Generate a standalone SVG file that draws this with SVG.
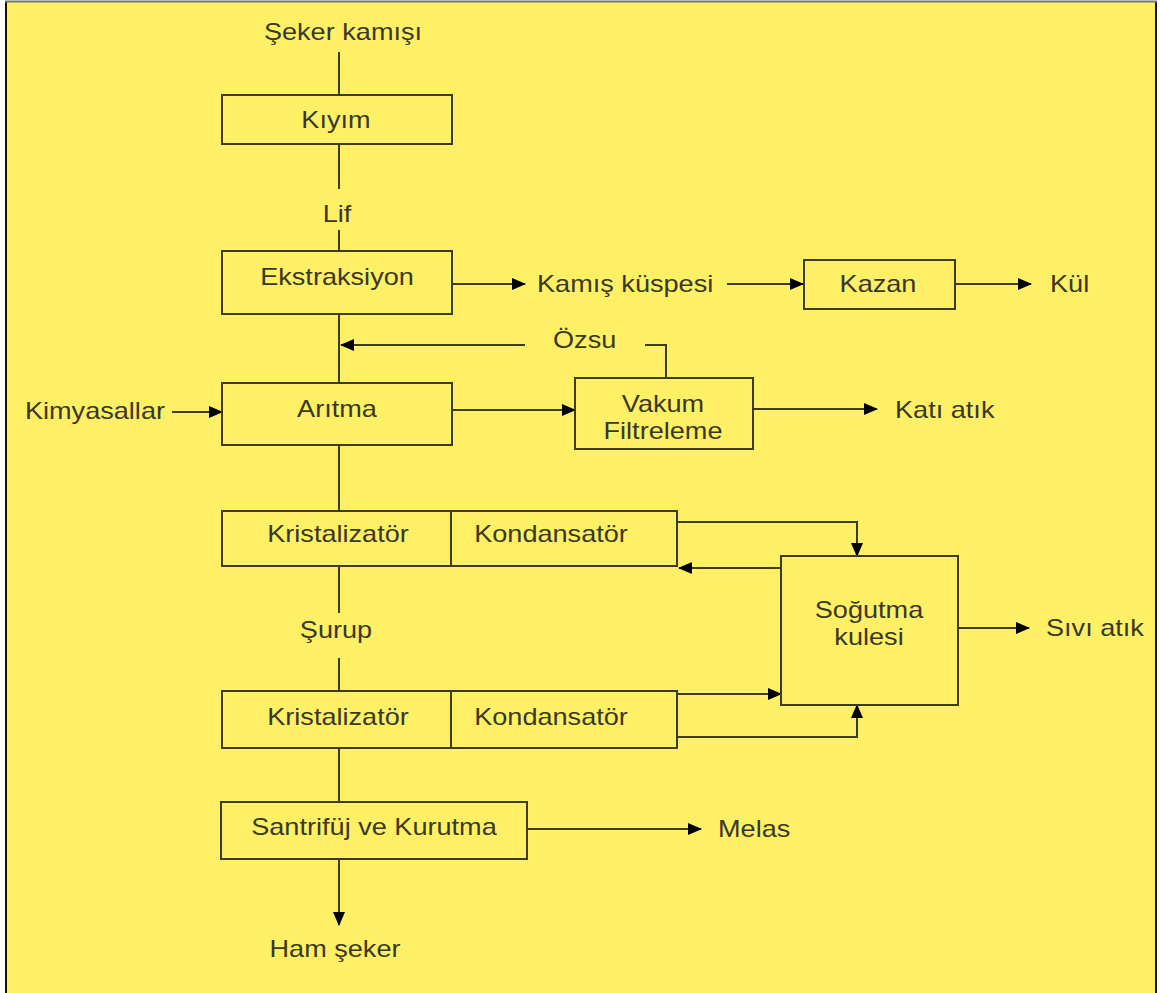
<svg xmlns="http://www.w3.org/2000/svg" width="1160" height="993" viewBox="0 0 1160 993">
<style>
.bg{fill:#FFF066}
.box{fill:#FFF066;stroke:#3d3b22;stroke-width:2}
.ln{fill:none;stroke:#3d3b22;stroke-width:2}
.t{font-family:"Liberation Sans",Arial,sans-serif;font-size:24px;fill:#3a381f}
.m{text-anchor:middle}
.e{text-anchor:end}
</style>
<defs>
<marker id="ah" markerWidth="14" markerHeight="12" refX="13" refY="6" orient="auto" markerUnits="userSpaceOnUse">
<path d="M0,0 L14,6 L0,12 Z" fill="#000"/>
</marker>
</defs>
<rect x="0" y="0" width="1160" height="993" fill="#ffffff"/>
<rect class="bg" x="6" y="2" width="1151" height="991"/>
<line x1="6" y1="2" x2="6" y2="993" stroke="#111" stroke-width="2"/>
<line x1="1156" y1="2" x2="1156" y2="993" stroke="#111" stroke-width="2"/>
<line x1="5" y1="1.5" x2="1157" y2="1.5" stroke="#777" stroke-width="2"/>

<g id="connectors">
<line class="ln" x1="339" y1="52" x2="339" y2="95"/>
<line class="ln" x1="339" y1="144" x2="339" y2="189"/>
<line class="ln" x1="339" y1="230" x2="339" y2="251"/>
<line class="ln" x1="452" y1="284" x2="525" y2="284" marker-end="url(#ah)"/>
<line class="ln" x1="727" y1="284" x2="803" y2="284" marker-end="url(#ah)"/>
<line class="ln" x1="955" y1="284" x2="1031" y2="284" marker-end="url(#ah)"/>
<line class="ln" x1="339" y1="314" x2="339" y2="383"/>
<line class="ln" x1="525" y1="345" x2="341" y2="345" marker-end="url(#ah)"/>
<polyline class="ln" points="645,345 666,345 666,378"/>
<line class="ln" x1="172" y1="412" x2="222" y2="412" marker-end="url(#ah)"/>
<line class="ln" x1="452" y1="410" x2="575" y2="410" marker-end="url(#ah)"/>
<line class="ln" x1="753" y1="409" x2="877" y2="409" marker-end="url(#ah)"/>
<line class="ln" x1="339" y1="445" x2="339" y2="511"/>
<polyline class="ln" points="677,522 857,522 857,556" marker-end="url(#ah)"/>
<line class="ln" x1="781" y1="568" x2="679" y2="568" marker-end="url(#ah)"/>
<line class="ln" x1="958" y1="628" x2="1029" y2="628" marker-end="url(#ah)"/>
<line class="ln" x1="339" y1="566" x2="339" y2="613"/>
<line class="ln" x1="339" y1="658" x2="339" y2="691"/>
<line class="ln" x1="677" y1="694" x2="781" y2="694" marker-end="url(#ah)"/>
<polyline class="ln" points="677,737 857,737 857,705" marker-end="url(#ah)"/>
<line class="ln" x1="339" y1="748" x2="339" y2="802"/>
<line class="ln" x1="527" y1="829" x2="701" y2="829" marker-end="url(#ah)"/>
<line class="ln" x1="339" y1="859" x2="339" y2="925" marker-end="url(#ah)"/>
</g>

<g id="seker-kamisi"><text class="t m" transform="translate(343 40) scale(1.13 1)">Şeker kamışı</text></g>
<g id="kiyim"><rect class="box" x="222" y="95" width="230" height="49"/><text class="t m" transform="translate(336 128) scale(1.13 1)">Kıyım</text></g>
<g id="lif"><text class="t m" transform="translate(337 222) scale(1.13 1)">Lif</text></g>
<g id="ekstraksiyon"><rect class="box" x="222" y="251" width="230" height="63"/><text class="t m" transform="translate(337 285) scale(1.13 1)">Ekstraksiyon</text></g>
<g id="kamis-kuspesi"><text class="t" transform="translate(537 292) scale(1.13 1)">Kamış küspesi</text></g>
<g id="kazan"><rect class="box" x="804" y="260" width="151" height="49"/><text class="t m" transform="translate(878 292) scale(1.13 1)">Kazan</text></g>
<g id="kul"><text class="t" transform="translate(1050 292) scale(1.13 1)">Kül</text></g>
<g id="ozsu"><text class="t" transform="translate(553 348) scale(1.13 1)">Özsu</text></g>
<g id="kimyasallar"><text class="t e" transform="translate(165 419) scale(1.13 1)">Kimyasallar</text></g>
<g id="aritma"><rect class="box" x="222" y="383" width="230" height="62"/><text class="t m" transform="translate(337 417) scale(1.13 1)">Arıtma</text></g>
<g id="vakum"><rect class="box" x="575" y="378" width="178" height="71"/><text class="t m" transform="translate(663 412) scale(1.13 1)">Vakum</text><text class="t m" transform="translate(663 439) scale(1.13 1)">Filtreleme</text></g>
<g id="kati-atik"><text class="t" transform="translate(895 418) scale(1.13 1)">Katı atık</text></g>
<g id="kristalizator1"><rect class="box" x="222" y="511" width="229" height="55"/><text class="t m" transform="translate(338 542) scale(1.13 1)">Kristalizatör</text></g>
<g id="kondansator1"><rect class="box" x="451" y="511" width="226" height="55"/><text class="t m" transform="translate(551 542) scale(1.13 1)">Kondansatör</text></g>
<g id="sogutma"><rect class="box" x="781" y="556" width="177" height="149"/><text class="t m" transform="translate(869 618) scale(1.13 1)">Soğutma</text><text class="t m" transform="translate(869 645) scale(1.13 1)">kulesi</text></g>
<g id="sivi-atik"><text class="t" transform="translate(1046 636) scale(1.13 1)">Sıvı atık</text></g>
<g id="surup"><text class="t m" transform="translate(336 638) scale(1.13 1)">Şurup</text></g>
<g id="kristalizator2"><rect class="box" x="222" y="691" width="229" height="57"/><text class="t m" transform="translate(338 725) scale(1.13 1)">Kristalizatör</text></g>
<g id="kondansator2"><rect class="box" x="451" y="691" width="226" height="57"/><text class="t m" transform="translate(551 725) scale(1.13 1)">Kondansatör</text></g>
<g id="santrifuj"><rect class="box" x="221" y="802" width="306" height="57"/><text class="t m" transform="translate(374 835) scale(1.13 1)">Santrifüj ve Kurutma</text></g>
<g id="melas"><text class="t" transform="translate(718 837) scale(1.13 1)">Melas</text></g>
<g id="ham-seker"><text class="t m" transform="translate(335 957) scale(1.13 1)">Ham şeker</text></g>
</svg>
